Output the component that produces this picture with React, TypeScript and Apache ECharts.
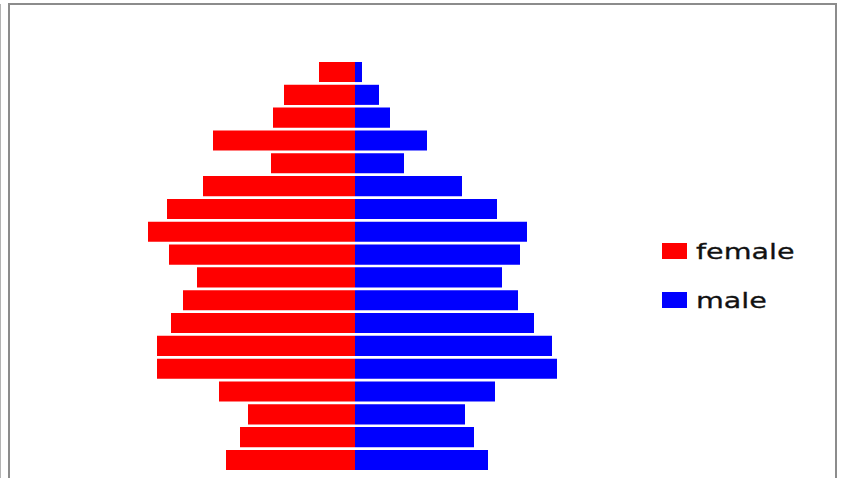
import React, { useEffect, useRef } from "react";
import * as echarts from "echarts";

// Age groups, listed from the bottom row of the pyramid to the top row
const ageGroups = [
  "0-4", "5-9", "10-14", "15-19", "20-24", "25-29", "30-34", "35-39", "40-44",
  "45-49", "50-54", "55-59", "60-64", "65-69", "70-74", "75-79", "80-84", "85+",
];

const femaleValues = [129, 115, 107, 136, 198, 198, 184, 172, 158, 186, 207, 188, 152, 84, 142, 82, 71, 36];
const maleValues = [133, 119, 110, 140, 202, 197, 179, 163, 147, 165, 172, 142, 107, 49, 72, 35, 24, 7];

const seriesNames = ["female", "male"];
const seriesColors = ["#ff0000", "#0000ff"];

const W = 844;
const H = 478;

export default function App() {
  const ref = useRef<HTMLDivElement>(null);

  useEffect(() => {
    document.body.style.margin = "0";
    if (!ref.current) return;
    const chart = echarts.init(ref.current, null, { renderer: "svg" });

    const legendTop = [251, 300];
    const legendItems = seriesNames.map((name, i) => ({
      type: "group",
      children: [
        {
          type: "rect",
          shape: { x: 662, y: legendTop[i] - 8, width: 25, height: 16 },
          style: { fill: seriesColors[i] },
        },
        {
          type: "text",
          x: 696,
          y: legendTop[i],
          scaleX: 1.3,
          style: {
            text: name,
            fill: "#111",
            font: '22px "DejaVu Sans"',
            verticalAlign: "middle",
            align: "left",
            stroke: "#111",
            lineWidth: 0.3,
          },
        },
      ],
    }));

    chart.setOption({
      animation: false,
      backgroundColor: "#fff",
      grid: { left: 135, width: 440, top: 60.6, bottom: 6.6 },
      xAxis: { type: "value", min: -220, max: 220, show: false },
      yAxis: { type: "category", data: ageGroups, show: false },
      series: [
        {
          name: seriesNames[0],
          type: "bar",
          stack: "pop",
          barCategoryGap: "12%",
          itemStyle: { color: seriesColors[0] },
          data: femaleValues.map((v) => -v),
        },
        {
          name: seriesNames[1],
          type: "bar",
          stack: "pop",
          barCategoryGap: "12%",
          itemStyle: { color: seriesColors[1] },
          data: maleValues,
        },
      ],
      graphic: [
        {
          type: "line",
          shape: { x1: 0.5, y1: 4, x2: 0.5, y2: H },
          style: { stroke: "#b4b4b4", lineWidth: 1 },
        },
        {
          type: "rect",
          shape: { x: 9, y: 4, width: 827, height: 600 },
          style: { fill: "none", stroke: "#8c8c8c", lineWidth: 2 },
        },
        ...legendItems,
      ],
    });

    return () => chart.dispose();
  }, []);

  return <div ref={ref} style={{ width: W, height: H }} />;
}
